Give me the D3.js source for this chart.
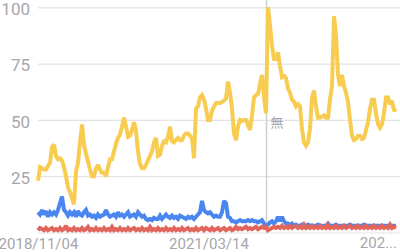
<!DOCTYPE html>
<html>
<head>
<meta charset="utf-8">
<script src="https://cdn.jsdelivr.net/npm/d3@7"></script>
<style>
  body { margin: 0; background: #fff; }
  svg { display: block; font-family: Roboto, "Noto Sans", sans-serif; }
</style>
</head>
<body>
<div id="chart"></div>
<script>
// values, one every ~2px along the x axis
const yellowSeries = [23,29,28.5,28,28,29.5,31,38,39,34,32.5,33,32,29,25,20,18,15,12.5,27,
  31,40,48,39,35,31.5,28,25,25,28.5,30,28,26.5,26.5,25,29,32.5,32.5,36,39.5,
  42,43.5,47,51,47,42.5,43,45.5,49,45,36,30.5,28.5,28.5,30,32,34,36,40,42,
  34,34.5,38.5,40.5,40,42.5,47,40.5,40,41,42,41,41,43,44,44,43,42,33,55,
  56,60,61,59,55,50,50,54,56,57.5,57.5,57.5,58,58.5,59.5,67,62,55,44,41,
  47,50,49.5,50,50,47.5,45.5,52,60,61,61.5,66,70,60,53,100,92,83,77,77,
  80,74,69,69.5,68.5,64,62,59,58,56,57,56,46,40,38.5,40,46,60,63,56,
  51,51,51.5,52,51,51,59,65,96,88,70,65,70,65,62,58,50,43,41,41.5,
  43,43,41.5,42,45.5,49,55,59,59,53,48,46.5,48,53,60,60,57,58.5,54,55];

const blueSeries = [9,8,10,8,9.5,7,9,8,9,8,10,13,16,10,9,7.5,9,8,9,7,
  9.5,8,7.5,9,10,7.5,8,7,7.5,6.5,8,7,7.5,8,10,8,7,7.5,8,7,
  9,7.5,8,7,8,9,7,7.5,8,7,9,8,7,7.5,6,5.5,6,5.5,6.5,6,
  6,7.5,6,7,8,7,6.5,7.5,6.5,7,6,7.5,7,6.5,6,7,6.5,7,6,7,
  8,9,14,10,9,8.5,9,8,7,7.5,7,7,9,14,13,7,6.5,5,5,4.5,
  5,5.5,5,5,5,5.5,5,5.5,5,5,4.5,5,5.5,4,3,3.5,4.5,5,4,5,
  7,5,7,5,4,4,3.5,4,3,3.5,3,3,3.5,3,3,3.5,3,3,3,3,
  3.5,3,3,3,3,4,3,3,3,3.5,3,3,3,3,3,3,3.5,3,3,3,
  3,3,3,3.5,3,3,3,3,3,3,3,3,3,3,3,3,3,3,3,3];

const redSeries = [1,2,1.5,1,2,1,1.5,2,1,1.5,1,2,1,1.5,3,1,1.5,1,2,1,
  1.5,1,2,1,1.5,2.5,1,1.5,1,2,1,1.5,1,2,1,1.5,1,2.5,1,1.5,
  1,2,1,1.5,1,2,1,1.5,2,1,1.5,1,2,1,1.5,1,2.5,1,1.5,1,
  2,1,1.5,1,2,1,1.5,1,2,1,1.5,1,2,1,1.5,2,1,1.5,1,2,
  1,1.5,2,1,2,1.5,1,2,1,1.5,2,1,1.5,2,1,1.5,2,1,1.5,2.5,
  1.5,2,1.5,2,2.5,1.5,2,1.5,2,2.5,1.5,2,2.5,2,2.5,1,1.5,2,2.5,2,
  2.5,2,3,2,2.5,2,3,2,2.5,3,2,2.5,2,3.5,2,2.5,2,3,2,2.5,
  2,3,2,2.5,2,3.5,2,2.5,2,3,2,2.5,2,3,2,2.5,3,2,2.5,2,
  3,2,2.5,2,3,2,2.5,2,3,2,2.5,2,3,2,2.5,2,3.5,2,2.5,2];

const yTicks = [0, 25, 50, 75, 100];
const dateRange = ["2018-11-04", "2023-10-22"];
const xTickDates = ["2018-11-04", "2021-03-14"];
const xTickLabels = ["2018/11/04", "2021/03/14"];
const endLabel = "202...";
const noteDate = "2022-01-01";
const noteText = "無";

const width = 400, height = 252;
const plot = {left: 38, right: 397, top: 7.3, bottom: 232.5};

const svg = d3.select("#chart").append("svg")
  .attr("width", width)
  .attr("height", height);

const y = d3.scaleLinear().domain([0, 100]).range([plot.bottom, plot.top]);
const xIdx = d3.scaleLinear().domain([0, yellowSeries.length - 1]).range([plot.left, 396]);
const parse = d3.timeParse("%Y-%m-%d");
const xTime = d3.scaleTime().domain(dateRange.map(parse)).range([plot.left, plot.right]);

// gridlines + y labels
const yAxis = svg.append("g")
  .attr("transform", `translate(${plot.left},0)`)
  .call(d3.axisLeft(y).tickValues(yTicks).tickSize(-(width - plot.left)).tickPadding(8)
    .tickFormat(d => d === 0 ? "" : d));
yAxis.select(".domain").remove();
yAxis.selectAll(".tick line").attr("stroke", "#e3e3e3").attr("stroke-width", 1.2);
yAxis.selectAll(".tick text")
  .attr("fill", "#a6a6ab")
  .attr("dy", "0.42em")
  .style("font-size", "17px")
  .style("font-family", "Roboto");

// x labels
const xAxis = svg.append("g")
  .attr("transform", `translate(0,${plot.bottom})`)
  .call(d3.axisBottom(xTime).tickValues(xTickDates.map(parse)).tickSize(0).tickPadding(6)
    .tickFormat((d, i) => xTickLabels[i]));
xAxis.select(".domain").remove();
xAxis.selectAll(".tick text")
  .attr("fill", "#a6a6ab")
  .style("font-size", "15px")
  .style("font-family", "Roboto");

svg.append("text")
  .attr("x", 397)
  .attr("y", 248)
  .attr("text-anchor", "end")
  .attr("fill", "#a6a6ab")
  .style("font-size", "15px")
  .style("font-family", "Roboto")
  .text(endLabel);

// note marker
const nx = xTime(parse(noteDate));
svg.append("line")
  .attr("x1", nx).attr("x2", nx)
  .attr("y1", 0).attr("y2", plot.bottom)
  .attr("stroke", "#cfcfcf")
  .attr("stroke-width", 1.5);

const line = d3.line()
  .x((d, i) => xIdx(i))
  .y(d => y(d));

const series = [
  {values: blueSeries, color: "#4a86f0"},
  {values: redSeries, color: "#e2655c"},
  {values: yellowSeries, color: "#f8cc50"}
];

svg.selectAll(".series")
  .data(series)
  .enter()
  .append("path")
  .attr("class", "series")
  .attr("d", d => line(d.values))
  .attr("fill", "none")
  .attr("stroke", d => d.color)
  .attr("stroke-width", 4)
  .attr("stroke-linejoin", "miter")
  .attr("stroke-miterlimit", 2);

svg.append("text")
  .attr("x", nx + 4)
  .attr("y", 127)
  .attr("fill", "#a6a6ab")
  .style("font-size", "13px")
  .style("font-family", "'Noto Sans CJK JP'")
  .text(noteText);
</script>
</body>
</html>
